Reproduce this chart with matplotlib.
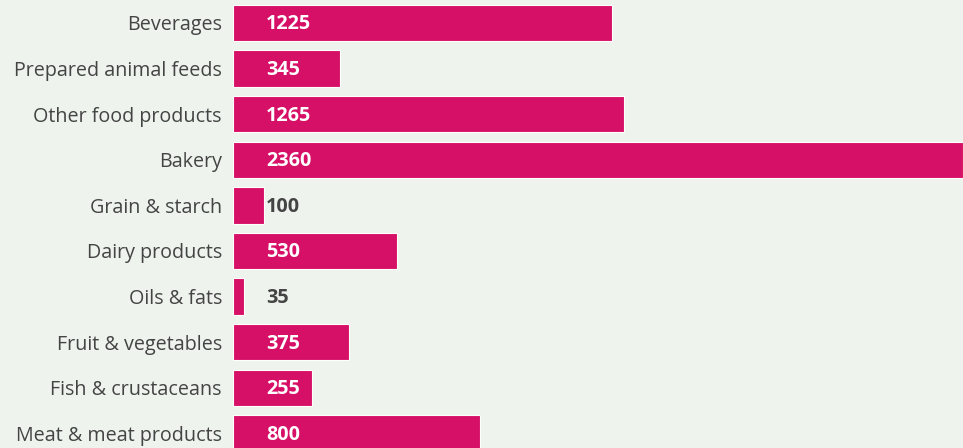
import matplotlib
matplotlib.use("Agg")
import matplotlib.pyplot as plt

categories = ["Beverages", "Prepared animal feeds", "Other food products", "Bakery",
              "Grain & starch", "Dairy products", "Oils & fats", "Fruit & vegetables",
              "Fish & crustaceans", "Meat & meat products"]
values = [1225, 345, 1265, 2360, 100, 530, 35, 375, 255, 800]

BG = "#EEF3EE"
BAR = "#D61066"
TEXT = "#444444"

plt.rcParams["font.family"] = ["Open Sans", "DejaVu Sans"]

fig = plt.figure(figsize=(9.63, 4.48), dpi=100)
fig.patch.set_facecolor(BG)
ax = fig.add_axes([233 / 963, 0, 730 / 963, 1])
ax.set_facecolor(BG)

ypos = list(range(len(categories)))
ax.barh(ypos, values, height=0.8, color=BAR, edgecolor="white", linewidth=0.8)
ax.set_xlim(0, 2360)
ax.set_ylim(9.32, -0.504)

ax.set_yticks(ypos)
ax.set_yticklabels(categories, fontsize=14.2, color=TEXT)
ax.tick_params(axis="y", length=0, pad=8)
ax.set_xticks([])
for s in ax.spines.values():
    s.set_visible(False)

# value labels start at a fixed offset from the bar base
label_x = 33 * 2360 / 730
for y, v in zip(ypos, values):
    inside = v > label_x + 100
    ax.text(label_x, y + 0.03, str(v), ha="left", va="center", fontsize=14.2,
            fontweight="bold", color="white" if inside else TEXT)

fig.savefig("out.png", dpi=100, facecolor=BG)
